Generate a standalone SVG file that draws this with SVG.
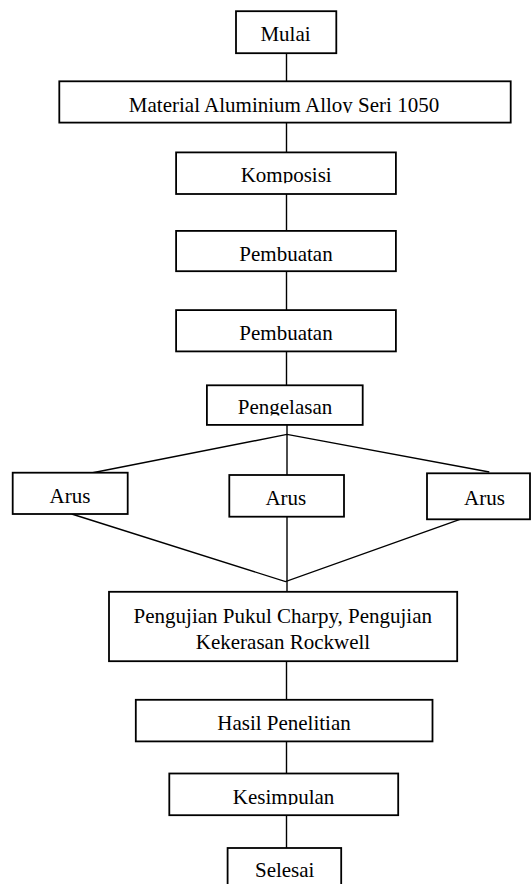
<svg xmlns="http://www.w3.org/2000/svg" width="531" height="884" viewBox="0 0 531 884">
<style>
.box{fill:#fff;stroke:#000;stroke-width:1.8}
.ln{fill:none;stroke:#000;stroke-width:1.4}
text{font-family:"Liberation Serif","Times New Roman",serif;font-size:21px;fill:#000;text-anchor:middle}
</style>
<defs>
<clipPath id="c1"><rect x="0" y="0" width="531" height="113"/></clipPath>
<clipPath id="c2"><rect x="0" y="0" width="531" height="183.3"/></clipPath>
<clipPath id="c3"><rect x="0" y="0" width="531" height="415.6"/></clipPath>
<clipPath id="c4"><rect x="0" y="0" width="531" height="805"/></clipPath>
</defs>
<g id="connectors">
<line class="ln" x1="286.5" y1="53" x2="286.5" y2="81.5"/>
<line class="ln" x1="286.5" y1="122.5" x2="286.5" y2="152.5"/>
<line class="ln" x1="286.5" y1="194" x2="286.5" y2="231"/>
<line class="ln" x1="286.5" y1="271.2" x2="286.5" y2="310"/>
<line class="ln" x1="286.5" y1="351.4" x2="286.5" y2="385.3"/>
<line class="ln" x1="287" y1="424.9" x2="287" y2="475"/>
<polyline class="ln" points="91.4,473 287,434.4 489.3,472"/>
<line class="ln" x1="287" y1="516.7" x2="287" y2="591.8"/>
<polyline class="ln" points="71.7,514 285.5,581.6 460,519.3"/>
<line class="ln" x1="286.5" y1="661.2" x2="286.5" y2="699.8"/>
<line class="ln" x1="286.5" y1="741.4" x2="286.5" y2="773.5"/>
<line class="ln" x1="286.5" y1="815.2" x2="286.5" y2="848"/>
</g>
<g id="mulai"><rect class="box" x="236" y="11.2" width="100.3" height="42"/><text x="285.5" y="41.3">Mulai</text></g>
<g id="material"><rect class="box" x="59.3" y="81.3" width="451.4" height="41.3"/><text x="284" y="111.8" clip-path="url(#c1)">Material Aluminium Alloy Seri 1050</text></g>
<g id="komposisi"><rect class="box" x="176.1" y="152.4" width="219.8" height="41.6"/><text x="286.2" y="181.8" clip-path="url(#c2)">Komposisi</text></g>
<g id="pembuatan1"><rect class="box" x="176.1" y="230.9" width="219.8" height="40.3"/><text x="286" y="260.5">Pembuatan</text></g>
<g id="pembuatan2"><rect class="box" x="176.1" y="310.1" width="219.8" height="41.3"/><text x="286" y="340.3">Pembuatan</text></g>
<g id="pengelasan"><rect class="box" x="206.9" y="385.3" width="155.8" height="39.6"/><text x="285" y="414.2" clip-path="url(#c3)">Pengelasan</text></g>
<g id="arus1"><rect class="box" x="12.7" y="472.7" width="115" height="41.3"/><text x="70" y="503.3">Arus</text></g>
<g id="arus2"><rect class="box" x="229.3" y="475" width="114.7" height="41.7"/><text x="285.8" y="505">Arus</text></g>
<g id="arus3"><rect class="box" x="427" y="473.3" width="103" height="46"/><text x="484.5" y="505">Arus</text></g>
<g id="pengujian"><rect class="box" x="109" y="591.8" width="348.2" height="69.4"/><text x="282.8" y="623.3">Pengujian Pukul Charpy, Pengujian</text><text x="283" y="649">Kekerasan Rockwell</text></g>
<g id="hasil"><rect class="box" x="135.8" y="699.8" width="296.7" height="41.6"/><text x="284" y="730.3">Hasil Penelitian</text></g>
<g id="kesimpulan"><rect class="box" x="169.3" y="773.5" width="228.9" height="41.7"/><text x="283.6" y="803.5" clip-path="url(#c4)">Kesimpulan</text></g>
<g id="selesai"><rect class="box" x="227.6" y="848" width="113.6" height="45"/><text x="284.7" y="876.5">Selesai</text></g>
</svg>
